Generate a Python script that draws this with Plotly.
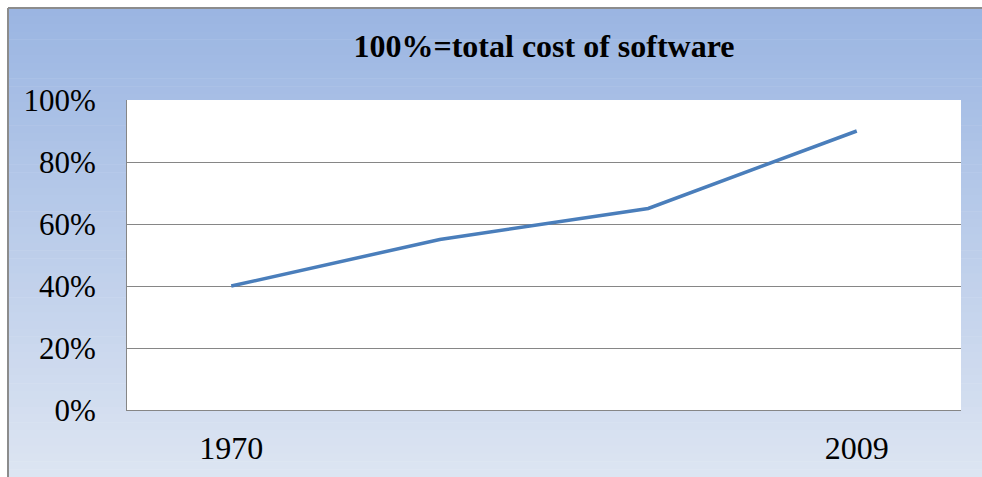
import plotly.graph_objects as go

categories = ["1970", "", "", "2009"]
values = [40, 55, 65, 90]
y_ticks = [0, 20, 40, 60, 80, 100]
y_tick_labels = ["0%", "20%", "40%", "60%", "80%", "100%"]

W, H = 982, 477
L, R, T, B = 127, 21, 100, 67
pw, ph = W - L - R, H - T - B

def px2x(px):
    return (px - L) / pw

def py2y(py):
    return (H - B - py) / ph

top_c = (154, 181, 226)
bot_c = (221, 229, 242)
shapes = []
n = 60
y0p, y1p = 8, H
for i in range(n):
    a = y0p + (y1p - y0p) * i / n
    b = y0p + (y1p - y0p) * (i + 1) / n
    t = (i + 0.5) / n
    c = tuple(round(top_c[k] + (bot_c[k] - top_c[k]) * t) for k in range(3))
    shapes.append(dict(type="rect", xref="paper", yref="paper",
                       x0=px2x(8), x1=px2x(W + 2), y0=py2y(b + 0.5), y1=py2y(a),
                       fillcolor="rgb(%d,%d,%d)" % c, line=dict(width=0), layer="below"))
shapes.append(dict(type="rect", xref="paper", yref="paper", x0=0, x1=1, y0=0, y1=1,
                   fillcolor="white", line=dict(width=0), layer="below"))
# outer frame lines (top and left)
shapes.append(dict(type="line", xref="paper", yref="paper", x0=px2x(8), x1=px2x(W + 2),
                   y0=py2y(8), y1=py2y(8), line=dict(color="#8c8c8c", width=2), layer="above"))
shapes.append(dict(type="line", xref="paper", yref="paper", x0=px2x(8), x1=px2x(8),
                   y0=py2y(8), y1=py2y(H + 2), line=dict(color="#8c8c8c", width=2), layer="above"))

fig = go.Figure()
fig.add_trace(go.Scatter(x=list(range(len(values))), y=values, mode="lines",
                         line=dict(color="#4A7EBB", width=3.5), hoverinfo="skip"))

font = "Liberation Serif"
fig.update_layout(
    width=W, height=H,
    margin=dict(l=L, r=R, t=T, b=B, pad=0, autoexpand=False),
    paper_bgcolor="white", plot_bgcolor="white",
    showlegend=False,
    shapes=shapes,
    title=dict(text="<b>100%=total cost of software</b>", x=0.5, xref="paper",
               y=1 - 46 / H, yanchor="middle",
               font=dict(family=font, size=32, color="black")),
    font=dict(family=font, color="black"),
)
fig.update_xaxes(range=[-0.5, len(values) - 0.5], tickvals=[0, 3],
                 ticktext=[categories[0], categories[3]], showgrid=False, zeroline=False,
                 showline=True, linecolor="#868686", linewidth=1, ticks="", automargin=False,
                 ticklabelstandoff=10, tickfont=dict(family=font, size=32, color="black"))
fig.update_yaxes(range=[0, 100], tickvals=y_ticks, ticktext=y_tick_labels,
                 showgrid=True, gridcolor="#868686", gridwidth=1, zeroline=False,
                 showline=True, linecolor="#868686", linewidth=1, ticks="", automargin=False,
                 ticklabelstandoff=24, tickfont=dict(family=font, size=31, color="black"))

page_js = "document.body.style.margin='0';document.body.style.overflow='hidden';"
fig.write_html("out.html", config={"displayModeBar": False}, post_script=page_js)
